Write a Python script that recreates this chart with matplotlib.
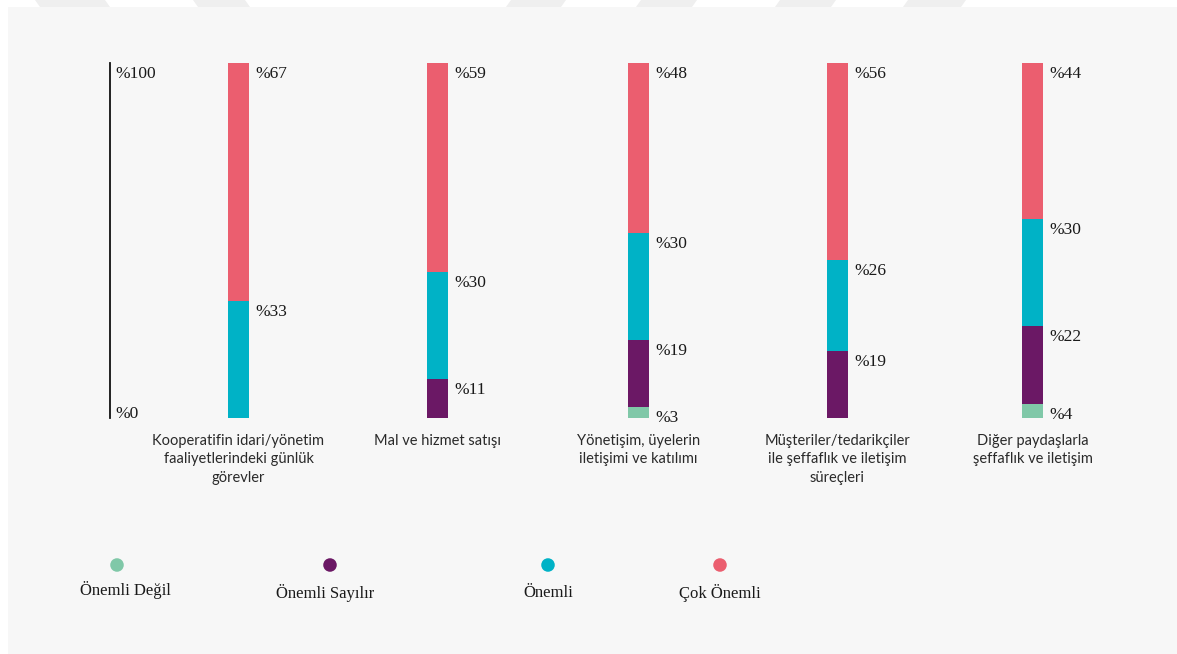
import matplotlib.pyplot as plt
import matplotlib.patches as mpatches
import numpy as np

# --- data -------------------------------------------------------------
categories = [
    "Kooperatifin idari/yönetim\nfaaliyetlerindeki günlük\ngörevler",
    "Mal ve hizmet satışı",
    "Yönetişim, üyelerin\niletişimi ve katılımı",
    "Müşteriler/tedarikçiler\nile şeffaflık ve iletişim\nsüreçleri",
    "Diğer paydaşlarla\nşeffaflık ve iletişim",
]
series_names = ["Önemli Değil", "Önemli Sayılır", "Önemli", "Çok Önemli"]
onemli_degil = [0, 0, 3, 0, 4]
onemli_sayilir = [0, 11, 19, 19, 22]
onemli = [33, 30, 30, 26, 30]
cok_onemli = [67, 59, 48, 56, 44]
axis_labels = ["%0", "%100"]

COLORS = ["#80c8a8", "#6b1865", "#00b2c6", "#eb5e6f"]
BG = "#f7f7f7"

W, H = 1177, 654
fig = plt.figure(figsize=(W / 100, H / 100), dpi=100, facecolor="white")

# light panel behind the chart
fig.patches.append(mpatches.Rectangle((8 / W, 0), 1, 1 - 7 / H,
                                      transform=fig.transFigure,
                                      facecolor=BG, edgecolor="none",
                                      zorder=-10))
# faint page-watermark strokes along the top edge
for x0, x1, s in [(40, 110, -5), (198, 250, -5), (506, 561, 5),
                  (636, 692, 5), (775, 831, 5), (903, 961, 5)]:
    pts = [(x0 + s, H), (x1 + s, H), (x1, H - 7), (x0, H - 7)]
    fig.patches.append(mpatches.Polygon([(a / W, b / H) for a, b in pts],
                                        closed=True, transform=fig.transFigure,
                                        facecolor="#efefef", edgecolor="none",
                                        zorder=-10))

# axes in pixel units horizontally; y=0 at pixel row 418, y=100 at row 63
y0_px, y100_px = 418, 63
bar_centers = [238.5, 437.5, 638.5, 837.5, 1032.5]
ax = fig.add_axes([0, (H - y0_px) / H, 1, (y0_px - y100_px) / H])
ax.set_xlim(0, W)
ax.set_ylim(0, 100)
ax.axis("off")
px = 100 / (y0_px - y100_px)  # data units per pixel (vertical)

raw_stack = [onemli_degil, onemli_sayilir, onemli, cok_onemli]
stack = np.array(raw_stack, float)
stack = stack / stack.sum(axis=0) * 100
bw = 21
bottom = np.zeros(len(categories))
for i, vals in enumerate(stack):
    ax.bar(bar_centers, vals, bw, bottom=bottom, color=COLORS[i],
           linewidth=0, zorder=2)
    for xi, b, v, r in zip(bar_centers, bottom, vals, raw_stack[i]):
        if r <= 0:
            continue
        ax.text(xi + bw / 2 + 6, b + v - 3 * px, f"%{r}",
                ha="left", va="top", fontsize=12.5,
                family="Liberation Serif", color="#1a1a1a")
    bottom += vals

# scale line
ax.plot([110, 110], [0, 100], color="#111111", lw=1.3, zorder=2,
        clip_on=False)
ax.text(115, 100 - 3 * px, axis_labels[1], ha="left", va="top",
        fontsize=12.5, family="Liberation Serif", color="#1a1a1a")
ax.text(115, 0 + 12 * px, axis_labels[0], ha="left", va="top",
        fontsize=12.5, family="Liberation Serif", color="#1a1a1a")

# category labels
for xi, lab in zip(bar_centers, categories):
    ax.text(xi, -15.5 * px, lab, ha="center", va="top", fontsize=10.5,
            family="Lato", color="#2a2a2a", linespacing=1.42, clip_on=False)

# legend: dots with labels underneath
leg_dot_px = [117, 330, 548, 720]
leg_lab_px = [125, 325, 548, 720]
leg_lab_y = [590, 593, 593, 593]
for name, c, dx, lx, ly in zip(series_names, COLORS, leg_dot_px, leg_lab_px,
                               leg_lab_y):
    ax.scatter([dx], [-(565 - y0_px) * px], s=95, color=c,
               edgecolors="none", clip_on=False, zorder=3)
    ax.text(lx, -(ly - y0_px) * px, name, ha="center",
            va="center", fontsize=12, family="Liberation Serif",
            color="#1a1a1a", clip_on=False)

fig.savefig("out.png", dpi=100, facecolor="white")
